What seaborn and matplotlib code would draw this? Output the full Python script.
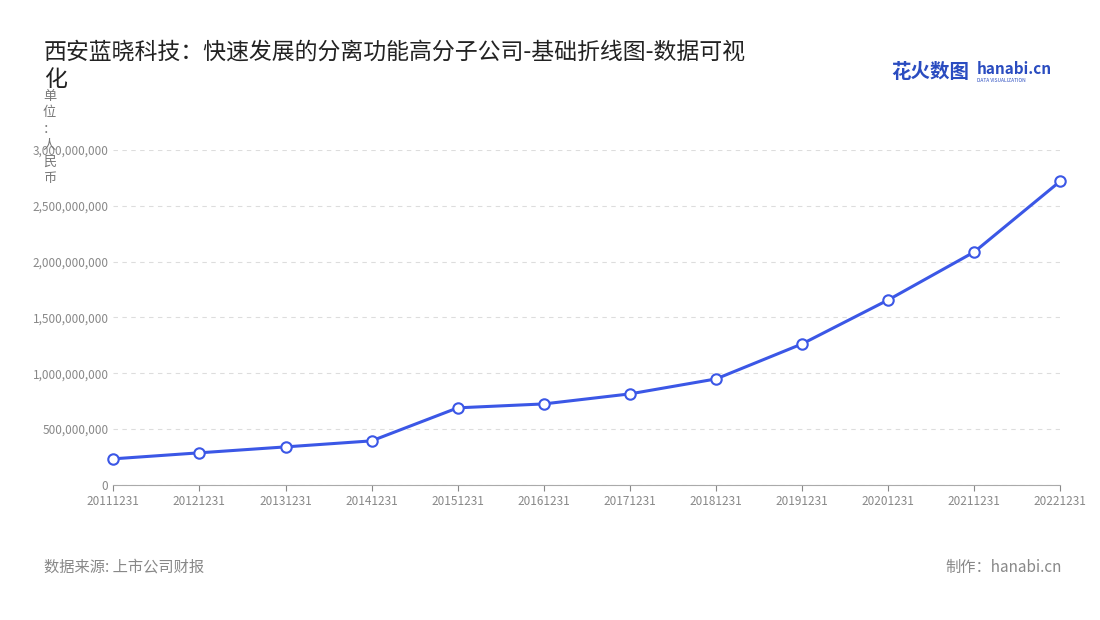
import matplotlib
matplotlib.use("Agg")
import matplotlib.pyplot as plt
import seaborn as sns
import pandas as pd
from matplotlib.ticker import FuncFormatter

plt.rcParams['font.sans-serif'] = ['Noto Sans CJK SC', 'DejaVu Sans']
plt.rcParams['axes.unicode_minus'] = False

years = ["20111231", "20121231", "20131231", "20141231", "20151231", "20161231",
         "20171231", "20181231", "20191231", "20201231", "20211231", "20221231"]
revenue = [233e6, 287e6, 340e6, 394e6, 690e6, 725e6,
           815e6, 949e6, 1263e6, 1657e6, 2087e6, 2722e6]
yticks = [0, 500e6, 1000e6, 1500e6, 2000e6, 2500e6, 3000e6]

df = pd.DataFrame({"year": years, "revenue": revenue})
df["x"] = range(len(years))

fig = plt.figure(figsize=(11, 6.2), dpi=100)
ax = fig.add_axes([0.103, 0.218, 0.861, 0.540])
blue = "#3b57e6"
sns.lineplot(data=df, x="x", y="revenue", ax=ax, color=blue, linewidth=2.2,
             marker="o", markersize=7.5, markerfacecolor="white",
             markeredgecolor=blue, markeredgewidth=1.5, clip_on=False)

ax.set_xlim(0, len(years) - 1)
ax.set_ylim(0, 3000e6)
ax.set_xticks(df["x"])
ax.set_xticklabels(years)
ax.set_yticks(yticks)
ax.yaxis.set_major_formatter(FuncFormatter(lambda v, p: f"{int(v):,}"))
ax.tick_params(axis="both", labelsize=8.5, colors="#888888", length=4)
ax.tick_params(axis="y", length=0)
ax.set_xlabel(""); ax.set_ylabel("")
ax.grid(axis="y", linestyle=(0, (4, 4)), color="#dddddd", linewidth=0.8)
for s in ["top", "right", "left"]:
    ax.spines[s].set_visible(False)
ax.spines["bottom"].set_color("#aaaaaa")

fig.text(0.040, 0.935, "西安蓝晓科技：快速发展的分离功能高分子公司-基础折线图-数据可视\n化",
         fontsize=16.5, color="#222222", va="top", linespacing=1.25)
fig.text(0.045, 0.855, "单\n位\n：\n人\n民\n币", fontsize=9.5, color="#777777",
         va="top", ha="center", linespacing=1.35)
fig.text(0.81, 0.883, "花火数图", fontsize=14, color="#2a4cc0", fontweight="bold", va="center")
fig.text(0.888, 0.889, "hanabi.cn", fontsize=11, color="#2a4cc0", fontweight="bold", va="center")
fig.text(0.888, 0.870, "DATA VISUALIZATION", fontsize=3.5, color="#2a4cc0", va="center")
fig.text(0.040, 0.085, "数据来源: 上市公司财报", fontsize=11, color="#888888", va="center")
fig.text(0.965, 0.085, "制作：hanabi.cn", fontsize=11, color="#888888", va="center", ha="right")

fig.savefig("out.png", dpi=100)
